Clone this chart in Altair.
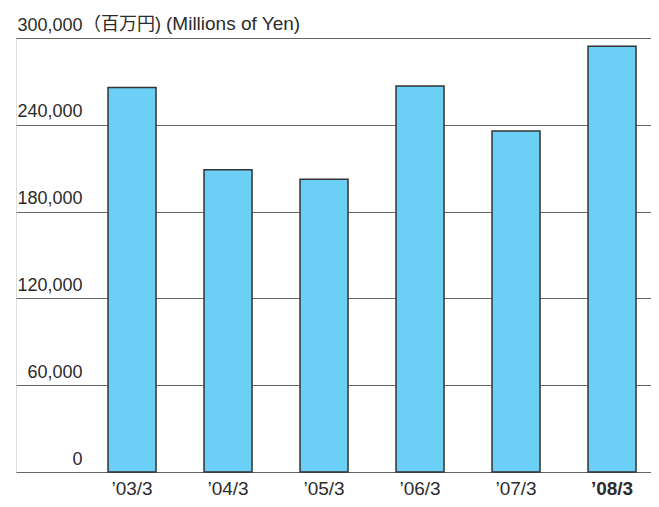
import altair as alt
import pandas as pd

categories = ["’03/3", "’04/3", "’05/3", "’06/3", "’07/3", "’08/3"]
values = [265700, 209000, 202300, 266900, 235700, 294300]
y_ticks = [0, 60000, 120000, 180000, 240000, 300000]
unit_jp = "（百万円)"
unit_en = "(Millions of Yen)"

df = pd.DataFrame({"period": categories, "sales": values})

FONT = "Liberation Sans, Noto Sans CJK JP"
TXT = "#2b2b2b"

x = alt.X(
    "period:N",
    sort=categories,
    title=None,
    scale=alt.Scale(paddingInner=0.5, paddingOuter=0.5573, align=0.86),
    axis=alt.Axis(
        labelAngle=0,
        domain=False,
        ticks=False,
        labelBaseline="alphabetic",
        labelPadding=22,
        labelFontSize=19,
        labelFont=FONT,
        labelColor=TXT,
        labelFontWeight={"condition": {"test": "datum.value == '’08/3'", "value": "bold"}, "value": "normal"},
    ),
)

y = alt.Y(
    "sales:Q",
    title=None,
    scale=alt.Scale(domain=[0, 300000], nice=False),
    axis=alt.Axis(
        values=y_ticks,
        format=",d",
        domain=False,
        ticks=False,
        grid=True,
        gridColor="#666666",
        gridWidth=1,
        labelAlign="right",
        labelBaseline="alphabetic",
        labelPadding=-66,
        labelOffset=-8,
        labelFlush=False,
        labelOverlap=False,
        labelBound=False,
        labelFontSize=18,
        labelFont=FONT,
        labelColor=TXT,
    ),
)

bars = alt.Chart(df).mark_bar(
    fill="#6ccff6", stroke="#333333", strokeWidth=1.5
).encode(x=x, y=y)

unit1 = alt.Chart(pd.DataFrame({"t": [unit_jp]})).mark_text(
    align="left", baseline="alphabetic", fontSize=18, font=FONT, color=TXT, dy=-8
).encode(x=alt.value(67), y=alt.datum(300000), text="t:N")

unit2 = alt.Chart(pd.DataFrame({"t": [unit_en]})).mark_text(
    align="left", baseline="alphabetic", fontSize=19, font=FONT, color=TXT, dy=-8
).encode(x=alt.value(150), y=alt.datum(300000), text="t:N")

chart = alt.layer(bars, unit1, unit2).properties(
    width=635,
    height=434,
    autosize=alt.AutoSizeParams(type="none"),
    padding={"left": 8, "top": 30, "right": 0, "bottom": 27},
).configure_view(stroke=None).configure(background="white")

chart.save("out.html", embed_options={"renderer": "svg", "actions": False})
